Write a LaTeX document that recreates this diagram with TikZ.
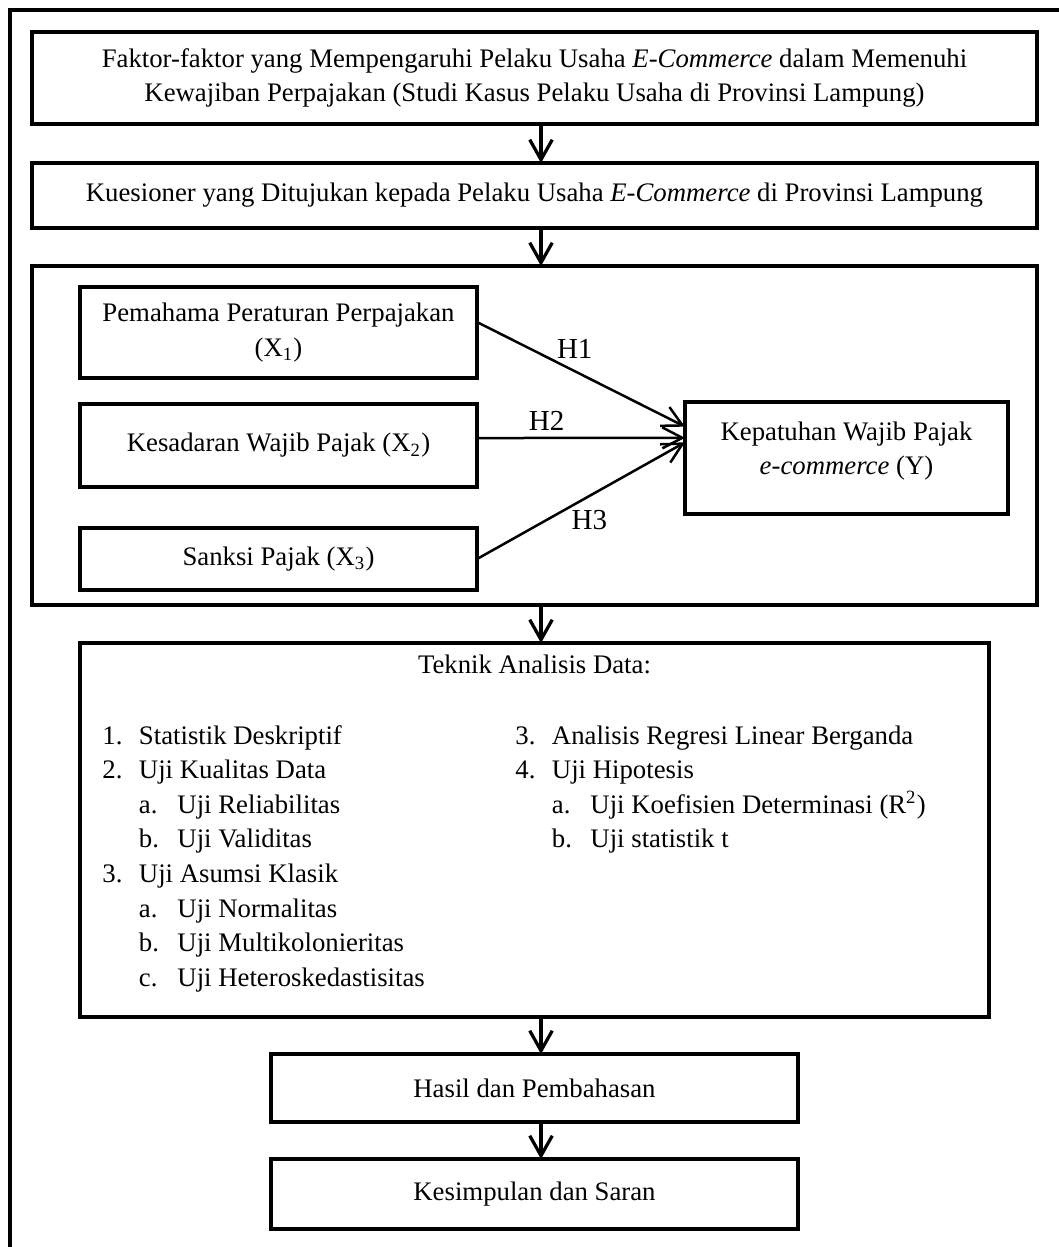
\documentclass[tikz,border=0pt]{standalone}
\usepackage{fontspec}
\setmainfont{Liberation Serif}
\usetikzlibrary{arrows.meta,positioning,calc}

\tikzset{
  box/.style={rectangle, draw, line width=1.4pt, inner sep=0pt, outer sep=0pt,
    align=center, font=\fontsize{10.7}{13.9}\selectfont},
  flow/.style={line width=1.3pt, -{Straight Barb[length=8pt,width=9pt]}},
  hyp/.style={line width=1pt, -{Straight Barb[length=8pt,width=8.4pt]}},
  hlabel/.style={font=\fontsize{11.6}{14}\selectfont, inner sep=0pt},
  listtext/.style={font=\fontsize{10.7}{13.9}\selectfont, inner sep=0pt, anchor=base west},
}
\newcommand{\numlbl}[1]{\makebox[14.6pt][l]{#1}}
\newcommand{\letlbl}[1]{\hspace*{14.6pt}\makebox[15.4pt][l]{#1}}

\begin{document}
\begin{tikzpicture}[x=0.4pt, y=-0.4pt, node distance=15.2pt]
\useasboundingbox (0,0) rectangle (1059,1247);
% outer frame
\draw[line width=1.6pt] (10,10) rectangle (1080,1280);
\coordinate (ax) at (541,0);

% main flow
\node[box, minimum width=402pt, minimum height=36.8pt] (judul) at (534.5,78)
  {Faktor-faktor yang Mempengaruhi Pelaku Usaha \textit{E-Commerce} dalam Memenuhi\\
   Kewajiban Perpajakan (Studi Kasus Pelaku Usaha di Provinsi Lampung)};
\node[box, minimum width=402pt, minimum height=26pt, below=15.6pt of judul] (kuesioner)
  {Kuesioner yang Ditujukan kepada Pelaku Usaha \textit{E-Commerce} di Provinsi Lampung};
\node[box, minimum width=402pt, minimum height=135.6pt, below=of kuesioner] (model) {};

% research model
\node[box, minimum width=158.8pt, minimum height=36.4pt,
  below right=8.4pt and 19.2pt of model.north west] (x1)
  {Pemahama Peraturan Perpajakan\\(X\textsubscript{1})};
\node[box, minimum width=158.8pt, minimum height=33.2pt, below=10.4pt of x1] (x2)
  {Kesadaran Wajib Pajak (X\textsubscript{2})};
\node[box, minimum width=158.8pt, minimum height=24.8pt, below=16.4pt of x2] (x3)
  {Sanksi Pajak (X\textsubscript{3})};
\node[box, minimum width=129.2pt, minimum height=44.8pt, right=83.2pt of x2, yshift=-5pt] (y)
  {\begin{tabular}{@{}c@{}}Kepatuhan Wajib Pajak\\\textit{e-commerce} (Y)\\[6pt]\end{tabular}};

\draw[hyp] ($(x1.north east)!0.385!(x1.south east)$) --
  node[hlabel, pos=0.47, yshift=8.8pt] {H1} ($(y.north west)!0.22!(y.south west)$);
\draw[hyp] ($(x2.north east)!0.41!(x2.south east)$) --
  node[hlabel, pos=0.335, yshift=6.8pt] {H2} ($(y.north west)!0.32!(y.south west)$);
\draw[hyp] (x3.east) --
  node[hlabel, pos=0.54, yshift=-9.8pt] {H3} ($(y.north west)!0.36!(y.south west)$);

% data analysis
\node[box, minimum width=363.6pt, minimum height=149.6pt, below=of model] (analisis) {};
\node[font=\fontsize{10.7}{13.9}\selectfont, inner sep=0pt, below=4.4pt of analisis.north] (teknik)
  {Teknik Analisis Data:};
\foreach \txt [count=\i from 0] in {
    {\numlbl{1.}Statistik Deskriptif},
    {\numlbl{2.}Uji Kualitas Data},
    {\letlbl{a.}Uji Reliabilitas},
    {\letlbl{b.}Uji Validitas},
    {\numlbl{3.}Uji Asumsi Klasik},
    {\letlbl{a.}Uji Normalitas},
    {\letlbl{b.}Uji Multikolonieritas},
    {\letlbl{c.}Uji Heteroskedastisitas}}
  \node[listtext] (kiri\i) at ($(analisis.north west)+(22,{101+34.6*\i})$) {\txt};
\foreach \txt [count=\i from 0] in {
    {\numlbl{3.}Analisis Regresi Linear Berganda},
    {\numlbl{4.}Uji Hipotesis},
    {\letlbl{a.}Uji Koefisien Determinasi (R\textsuperscript{2})},
    {\letlbl{b.}Uji statistik t}}
  \node[listtext] (kanan\i) at ($(analisis.north west)+(435,{101+34.6*\i})$) {\txt};

% results
\node[box, minimum width=210.8pt, minimum height=27.2pt, below=14.8pt of analisis] (hasil)
  {Hasil dan Pembahasan};
\node[box, minimum width=210.8pt, minimum height=28pt, below=14.8pt of hasil] (simpulan)
  {Kesimpulan dan Saran};

\foreach \a/\b in {judul/kuesioner, kuesioner/model, model/analisis, analisis/hasil, hasil/simpulan}
  \draw[flow] (\a.south -| ax) -- (\b.north -| ax);
\end{tikzpicture}
\end{document}
